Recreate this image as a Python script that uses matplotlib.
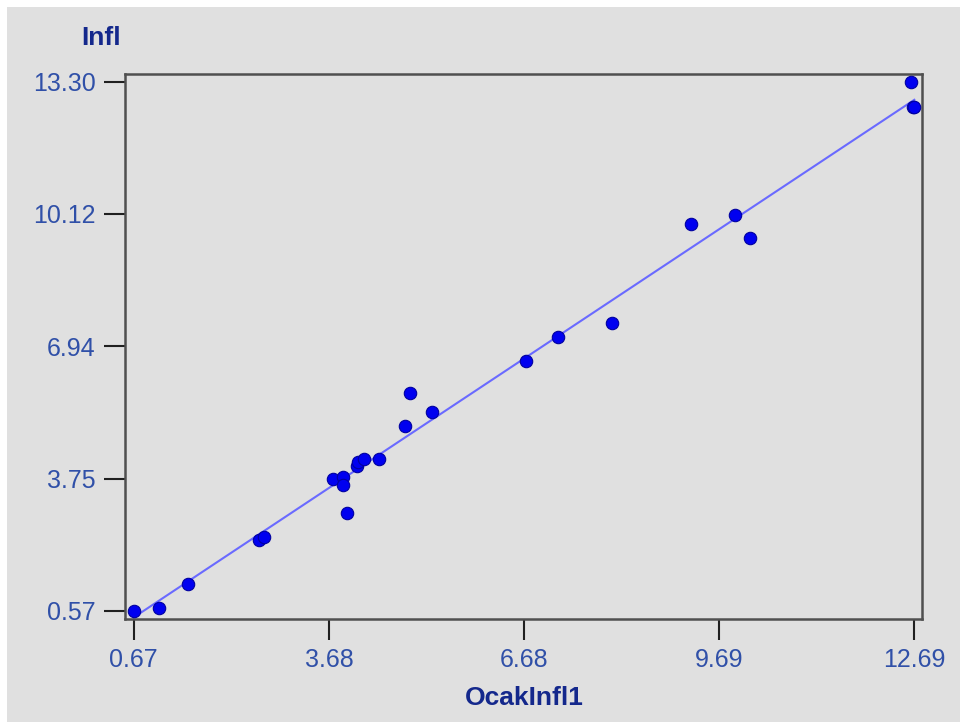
import matplotlib
matplotlib.use("Agg")
import matplotlib.pyplot as plt
import numpy as np
from matplotlib.patches import Rectangle

# Data
ocak_infl1 = [0.67, 1.06, 1.51, 2.60, 2.68, 3.74, 3.89, 3.89, 3.95, 4.11, 4.12, 4.22,
              4.45, 4.85, 4.92, 5.26, 6.71, 7.21, 8.03, 9.25, 9.93, 10.16, 12.64,
              12.67, 12.69]
infl = [0.57, 0.65, 1.22, 2.28, 2.36, 3.75, 3.79, 3.60, 2.93, 4.06, 4.15, 4.23,
        4.23, 5.02, 5.81, 5.36, 6.59, 7.15, 7.49, 9.87, 10.09, 9.53, 13.30,
        12.70, 12.70]
x_ticks = [0.67, 3.68, 6.68, 9.69, 12.69]
y_ticks = [0.57, 3.75, 6.94, 10.12, 13.30]
x_label = "OcakInfl1"
y_label = "Infl"

W, H = 960, 722
fig = plt.figure(figsize=(W / 100, H / 100), dpi=100, facecolor="#e0e0e0")
# thin white margin on top/left
fig.patches.append(Rectangle((0, 1 - 7 / H), 1, 7 / H, transform=fig.transFigure,
                             facecolor="white", edgecolor="none"))
fig.patches.append(Rectangle((0, 0), 7 / W, 1, transform=fig.transFigure,
                             facecolor="white", edgecolor="none"))

left, right, top, bottom = 125, 922, 74, 619
ax = fig.add_axes([left / W, 1 - bottom / H, (right - left) / W, (bottom - top) / H])
ax.set_facecolor("#e0e0e0")

x = np.array(ocak_infl1)
y = np.array(infl)
slope, intercept = np.polyfit(x, y, 1)
xl = np.array([x.min(), x.max()])
ax.plot(xl, slope * xl + intercept, color="#6a6aff", lw=1.5, zorder=2)
ax.scatter(x, y, s=80, color="#0000f0", edgecolors="#0000a0", linewidths=0.8, zorder=3)

# axis limits so ticks sit slightly inside the frame
xpx = (914.3 - 133.7) / (12.69 - 0.67)
ypx = (611 - 81.7) / (13.30 - 0.57)
ax.set_xlim(0.67 - (133.7 - left) / xpx, 0.67 + (right - 133.7) / xpx)
ax.set_ylim(0.57 - (bottom - 611) / ypx, 13.30 + (81.7 - top) / ypx)

ax.set_xticks(x_ticks)
ax.set_xticklabels([f"{v:.2f}" for v in x_ticks])
ax.set_yticks(y_ticks)
ax.set_yticklabels([f"{v:.2f}" for v in y_ticks])

tick_color = "#3050a8"
ax.tick_params(axis="both", direction="out", length=15, width=1.5, color="#202020",
               labelsize=18, labelcolor=tick_color, pad=6)
for lab in ax.get_xticklabels() + ax.get_yticklabels():
    lab.set_family("Liberation Sans")

for sp in ax.spines.values():
    sp.set_color("#505050")
    sp.set_linewidth(1.8)

lab_color = "#14288c"
fig.text(101 / W, 1 - 38 / H, y_label, ha="center", va="center", fontsize=19,
         fontweight="bold", color=lab_color, family="Liberation Sans")
fig.text(524 / W, 1 - 698 / H, x_label, ha="center", va="center", fontsize=19,
         fontweight="bold", color=lab_color, family="Liberation Sans")

fig.savefig("out.png", dpi=100, facecolor=fig.get_facecolor())
